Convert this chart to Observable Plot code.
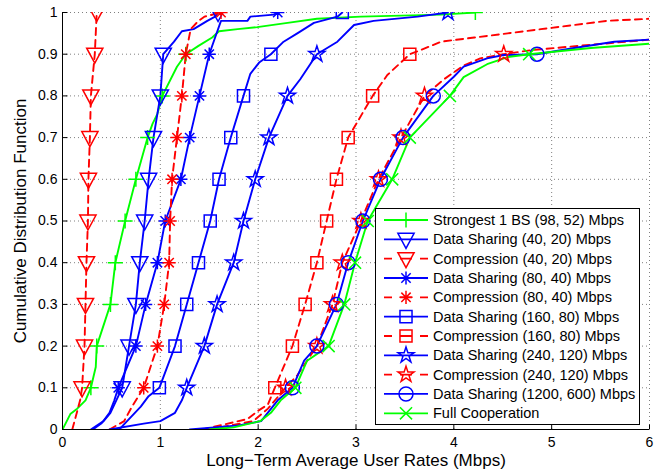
<!DOCTYPE html>
<html><head><meta charset="utf-8">
<script src="https://cdn.jsdelivr.net/npm/d3@7"></script>
<script src="https://cdn.jsdelivr.net/npm/@observablehq/plot@0.6"></script>
<style>body{margin:0;background:#fff}#chart{width:670px;height:475px}</style>
</head><body><div id="chart"></div>
<script>
// ---- tick values ----
const xTicks = [0, 1, 2, 3, 4, 5, 6];
const yTicks = [0, 0.1, 0.2, 0.3, 0.4, 0.5, 0.6, 0.7, 0.8, 0.9, 1];
// CDF levels where markers sit
const levels = [0.1, 0.2, 0.3, 0.4, 0.5, 0.6, 0.7, 0.8, 0.9, 1.0];

// ---- series names ----
const names = [
  "Strongest 1 BS (98, 52) Mbps",
  "Data Sharing (40, 20) Mbps",
  "Compression (40, 20) Mbps",
  "Data Sharing (80, 40) Mbps",
  "Compression (80, 40) Mbps",
  "Data Sharing (160, 80) Mbps",
  "Compression (160, 80) Mbps",
  "Data Sharing (240, 120) Mbps",
  "Compression (240, 120) Mbps",
  "Data Sharing (1200, 600) Mbps",
  "Full Cooperation"
];

// ---- x (rate) at each marker level ----
const strongestMarks = [0.29, 0.35, 0.49, 0.54, 0.64, 0.75, 0.87, 1.02, 1.26, 4.22];
const ds40Marks      = [0.61, 0.68, 0.75, 0.79, 0.84, 0.88, 0.93, 1.00, 1.03, 1.59];
const c40Marks       = [0.20, 0.225, 0.235, 0.245, 0.26, 0.265, 0.28, 0.29, 0.33, 0.35];
const ds80Marks      = [0.57, 0.75, 0.85, 0.97, 1.05, 1.21, 1.30, 1.40, 1.50, 2.20];
const c80Marks       = [0.83, 0.97, 1.04, 1.09, 1.10, 1.12, 1.17, 1.22, 1.26, 1.62];
const ds160Marks     = [0.99, 1.15, 1.27, 1.39, 1.51, 1.60, 1.72, 1.85, 2.13, 2.86];
const c160Marks      = [2.17, 2.35, 2.48, 2.60, 2.70, 2.80, 2.92, 3.17, 3.55];
const ds240Marks     = [1.27, 1.45, 1.58, 1.75, 1.85, 1.97, 2.11, 2.30, 2.60, 3.94];
const c240Marks      = [2.28, 2.60, 2.76, 2.86, 3.05, 3.23, 3.46, 3.70, 4.51];
const ds1200Marks    = [2.35, 2.60, 2.80, 2.92, 3.07, 3.25, 3.48, 3.79, 4.85];
const fullMarks      = [2.38, 2.72, 2.88, 2.99, 3.12, 3.37, 3.55, 3.96, 4.77];

// ---- further points (x rate, y probability) ----
const strongestX = [0, 0.08, 0.15, 0.235, 0.34, 0.92, 0.97, 1.17, 1.39, 1.53, 1.60, 1.79, 1.99, 2.30, 2.60, 3.05, 3.87];
const strongestY = [0, 0.037, 0.05, 0.07, 0.15, 0.733, 0.757, 0.87, 0.92, 0.94, 0.955, 0.96, 0.965, 0.975, 0.985, 0.99, 0.995];
const ds40X = [0.29, 0.42, 0.49, 0.55, 1.14, 1.22, 1.34, 1.48, 1.56];
const ds40Y = [0, 0.02, 0.04, 0.07, 0.93, 0.955, 0.96, 0.98, 0.99];
const c40X = [0.10, 0.18];
const c40Y = [0, 0.07];
const ds80X = [0.31, 0.40, 0.48, 0.53, 1.56, 1.62, 1.89, 1.92, 2.16];
const ds80Y = [0, 0.015, 0.04, 0.07, 0.94, 0.98, 0.98, 0.99, 0.995];
const c80X = [0.48, 0.63, 0.71, 1.31, 1.39, 1.45];
const c80Y = [0, 0.02, 0.055, 0.96, 0.98, 0.99];
const ds160X = [0.58, 0.66, 0.80, 0.88, 1.92, 2.01, 2.26, 2.40, 2.57, 2.81];
const ds160Y = [0, 0.02, 0.055, 0.08, 0.853, 0.88, 0.93, 0.95, 0.975, 0.99];
const c160X = [1.43, 1.89, 2.00, 2.10, 2.26, 3.32, 3.66, 3.87, 4.21, 4.55, 4.89, 5.23, 5.57, 6.0];
const c160Y = [0, 0.025, 0.045, 0.06, 0.15, 0.85, 0.91, 0.93, 0.94, 0.95, 0.96, 0.97, 0.98, 0.985];
const ds240X = [0.48, 0.83, 1.00, 1.15, 1.22, 2.43, 2.81, 2.98, 3.18, 3.63];
const ds240Y = [0, 0.014, 0.02, 0.04, 0.07, 0.84, 0.93, 0.97, 0.98, 0.99];
const c240X = [1.50, 1.95, 2.10, 2.40, 3.90, 4.10, 4.27, 4.80, 6.0];
const c240Y = [0, 0.02, 0.05, 0.13, 0.84, 0.873, 0.89, 0.91, 0.935];
const ds1200X = [1.30, 1.80, 2.03, 2.20, 2.47, 4.00, 4.10, 4.34, 4.51, 5.23, 5.64, 6.0];
const ds1200Y = [0, 0.01, 0.02, 0.07, 0.165, 0.846, 0.87, 0.89, 0.898, 0.915, 0.93, 0.935];
const fullX = [1.50, 1.75, 2.02, 2.13, 2.23, 2.50, 4.10, 4.34, 4.55, 5.40, 6.0];
const fullY = [0, 0.005, 0.02, 0.04, 0.07, 0.165, 0.845, 0.876, 0.893, 0.915, 0.925];

// ---- styles ----
const BLUE = "#0000ff", RED = "#ff0000", GREEN = "#00ff00";
const DASH = "7,5";

// custom symbols
const asterisk = {draw(ctx, size) {
  const r = Math.sqrt(size / Math.PI) * 1.5, d = r * Math.SQRT1_2;
  ctx.moveTo(-r, 0); ctx.lineTo(r, 0);
  ctx.moveTo(0, -r); ctx.lineTo(0, r);
  ctx.moveTo(-d, -d); ctx.lineTo(d, d);
  ctx.moveTo(-d, d); ctx.lineTo(d, -d);
}};
const triDown = {draw(ctx, size) {
  const r = Math.sqrt(size / Math.PI);
  const h = r * 1.25, w = r * 1.35;
  ctx.moveTo(-w, -h * 0.8); ctx.lineTo(w, -h * 0.8); ctx.lineTo(0, h * 1.2); ctx.closePath();
}};
const plusSym = {draw(ctx, size) {
  const r = Math.sqrt(size / Math.PI) * 1.5;
  ctx.moveTo(-r, 0); ctx.lineTo(r, 0); ctx.moveTo(0, -r); ctx.lineTo(0, r);
}};
const timesSym = {draw(ctx, size) {
  const r = Math.sqrt(size / Math.PI) * 1.1;
  ctx.moveTo(-r, -r); ctx.lineTo(r, r); ctx.moveTo(-r, r); ctx.lineTo(r, -r);
}};
const tickRight = {draw(ctx) { ctx.moveTo(0, 0); ctx.lineTo(5, 0); }};
const tickUp = {draw(ctx) { ctx.moveTo(0, 0); ctx.lineTo(0, -5); }};

const series = [
  {marks: strongestMarks, xs: strongestX, ys: strongestY, color: GREEN, dash: null, sym: plusSym, r: 5},
  {marks: ds40Marks, xs: ds40X, ys: ds40Y, color: BLUE, dash: null, sym: triDown, r: 6},
  {marks: c40Marks, xs: c40X, ys: c40Y, color: RED, dash: DASH, sym: triDown, r: 6},
  {marks: ds80Marks, xs: ds80X, ys: ds80Y, color: BLUE, dash: null, sym: asterisk, r: 4.4},
  {marks: c80Marks, xs: c80X, ys: c80Y, color: RED, dash: DASH, sym: asterisk, r: 4.4},
  {marks: ds160Marks, xs: ds160X, ys: ds160Y, color: BLUE, dash: null, sym: "square", r: 6.8},
  {marks: c160Marks, xs: c160X, ys: c160Y, color: RED, dash: DASH, sym: "square", r: 6.8},
  {marks: ds240Marks, xs: ds240X, ys: ds240Y, color: BLUE, dash: null, sym: "star", r: 5},
  {marks: c240Marks, xs: c240X, ys: c240Y, color: RED, dash: DASH, sym: "star", r: 5},
  {marks: ds1200Marks, xs: ds1200X, ys: ds1200Y, color: BLUE, dash: null, sym: "circle", r: 7},
  {marks: fullMarks, xs: fullX, ys: fullY, color: GREEN, dash: null, sym: timesSym, r: 5.5}
];

const lineMarks = [];
const dotMarks = [];
series.forEach((s, i) => {
  const markerPts = s.marks.map((x, k) => ({x, y: levels[k]}));
  const extra = s.xs.map((x, k) => ({x, y: s.ys[k]}));
  const curve = [...extra, ...markerPts].sort((a, b) => a.y - b.y || a.x - b.x);
  lineMarks.push(Plot.line(curve, {x: "x", y: "y", stroke: s.color, strokeWidth: 1.9,
    strokeDasharray: s.dash || undefined, clip: true}));
  dotMarks.push(Plot.dot(markerPts, {x: "x", y: "y", symbol: s.sym, r: s.r, stroke: s.color,
    fill: "none", strokeWidth: 1.5, clip: true}));
});

const FONT = "'Liberation Sans', Arial, Helvetica, sans-serif";

const chart = Plot.plot({
  width: 670, height: 475,
  marginLeft: 62, marginRight: 21, marginTop: 12, marginBottom: 46,
  x: {domain: [0, 6]},
  y: {domain: [0, 1]},
  style: {fontFamily: FONT, fontSize: "14px", background: "white", color: "black", overflow: "visible"},
  marks: [
    Plot.gridX(xTicks, {stroke: "#000", strokeOpacity: 0.5, strokeDasharray: "1,3", strokeWidth: 1}),
    Plot.gridY(yTicks, {stroke: "#000", strokeOpacity: 0.5, strokeDasharray: "1,3", strokeWidth: 1}),
    Plot.axisX(xTicks, {tickSize: 0, tickPadding: 8, tickFormat: d => String(d), label: null, fontSize: 14}),
    Plot.axisY(yTicks, {tickSize: 0, tickPadding: 5, tickFormat: d => String(+d.toFixed(1)), label: null, fontSize: 14}),
    Plot.dot(yTicks, {x: () => 0, y: d => d, symbol: tickRight, stroke: "black", strokeWidth: 1}),
    Plot.dot(xTicks, {x: d => d, y: () => 0, symbol: tickUp, stroke: "black", strokeWidth: 1}),
    ...lineMarks,
    ...dotMarks,
    Plot.ruleX([0], {stroke: "black", strokeWidth: 1}),
    Plot.ruleY([0], {stroke: "black", strokeWidth: 1}),
    Plot.text(["Long\u2212Term Average User Rates (Mbps)"], {frameAnchor: "bottom", dy: 31, fontSize: 17, lineAnchor: "middle", textAnchor: "middle"}),
    Plot.text(["Cumulative Distribution Function"], {frameAnchor: "left", dx: -42, rotate: -90, fontSize: 17, lineAnchor: "middle", textAnchor: "middle"})
  ]
});

// ---- legend drawn inside the axes ----
const svg = d3.select(chart);
const lg = svg.append("g").attr("font-family", FONT).attr("font-size", 14.5).attr("text-anchor", "start");
const LX = 375.5, LY = 208.5, LW = 264, LH = 216;
lg.append("rect").attr("x", LX).attr("y", LY).attr("width", LW).attr("height", LH)
  .attr("fill", "white").attr("stroke", "black").attr("stroke-width", 1);
series.forEach((s, i) => {
  const cy = 220 + i * 19.33;
  const row = lg.append("g");
  row.append("path").attr("d", `M384,${cy}H428`).attr("stroke", s.color).attr("stroke-width", 1.8)
    .attr("fill", "none").attr("stroke-dasharray", s.dash ? "8,8,12,8,8" : null);
  const symObj = typeof s.sym === "string"
    ? {square: d3.symbolSquare, star: d3.symbolStar, circle: d3.symbolCircle}[s.sym]
    : s.sym;
  row.append("path").attr("d", d3.symbol(symObj, s.r * s.r * Math.PI)())
    .attr("transform", `translate(406,${cy})`).attr("stroke", s.color).attr("fill", "none").attr("stroke-width", 1.5);
  row.append("text").attr("x", 433).attr("y", cy).attr("dy", "0.35em").attr("fill", "black")
    .attr("text-anchor", "start").text(names[i]);
});

document.getElementById("chart").appendChild(chart);
</script>
</body></html>
